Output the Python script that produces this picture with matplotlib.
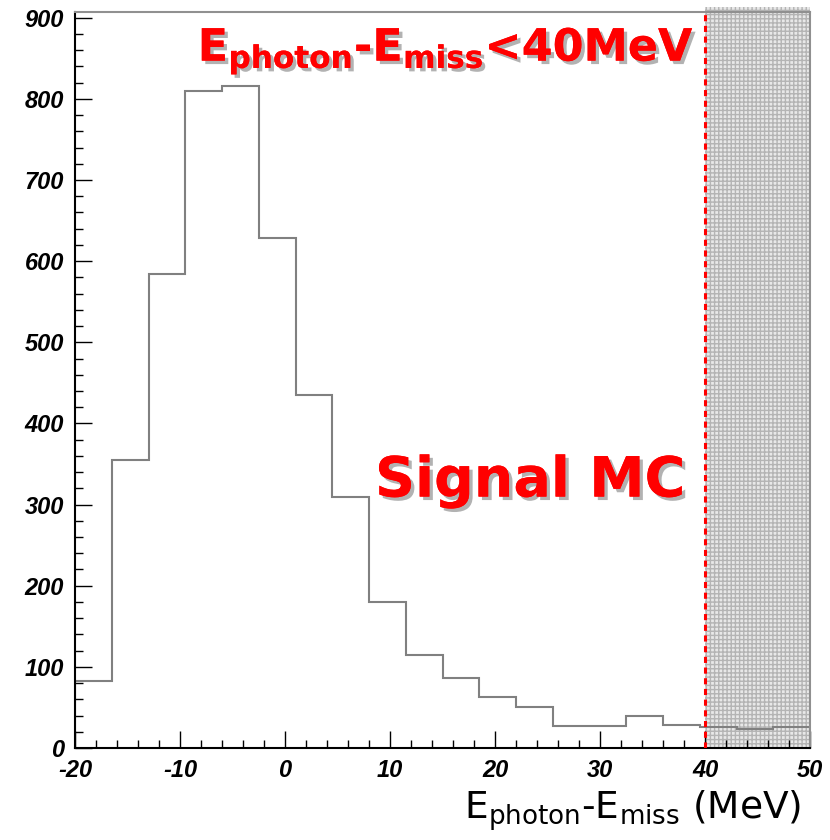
import matplotlib
matplotlib.use("Agg")
import matplotlib.pyplot as plt
import matplotlib.patheffects as pe
from matplotlib.ticker import MultipleLocator
import numpy as np

plt.rcParams["axes.unicode_minus"] = False

bin_edges = [-20, -16.5, -13, -9.5, -6, -2.5, 1, 4.5, 8, 11.5, 15, 18.5, 22,
             25.5, 29, 32.5, 36, 39.5, 43, 46.5, 50]
counts = [83, 355, 584, 810, 816, 629, 435, 309, 180, 115, 86, 63, 51, 27, 27,
          39, 28, 26, 23, 26]
cut_value = 40
x_ticks = [-20, -10, 0, 10, 20, 30, 40, 50]
y_ticks = [0, 100, 200, 300, 400, 500, 600, 700, 800, 900]

fig = plt.figure(figsize=(8.3, 8.4), dpi=100)
ax = fig.add_axes([0.0904, 0.1095, 0.8856, 0.8762])

ax.stairs(counts, bin_edges, color="#808080", linewidth=1.5, zorder=2)

ax.set_xlim(-20, 50)
ax.set_ylim(0, 907)

# shaded excluded region
ax.fill_between([cut_value, 50], 0, 913, facecolor="#e8e8e8", edgecolor="#b4b4b4",
                hatch="++++", linewidth=0, clip_on=False, zorder=1)
ax.axvline(cut_value, color="red", linestyle=(0, (2, 1.5)), linewidth=2.2, zorder=3)

for s in ["top", "right"]:
    ax.spines[s].set_color("#909090")
    ax.spines[s].set_linewidth(1.5)
for s in ["left", "bottom"]:
    ax.spines[s].set_color("black")
    ax.spines[s].set_linewidth(1.5)

ax.xaxis.set_major_locator(MultipleLocator(10))
ax.xaxis.set_minor_locator(MultipleLocator(2))
ax.yaxis.set_major_locator(MultipleLocator(100))
ax.yaxis.set_minor_locator(MultipleLocator(20))
ax.set_xticks(x_ticks)
ax.set_yticks(y_ticks)
ax.tick_params(axis="both", which="major", direction="in", length=12, width=1, pad=8)
ax.tick_params(axis="both", which="minor", direction="in", length=6, width=1)
ax.tick_params(top=False, right=False, which="both")

for lab in ax.get_xticklabels() + ax.get_yticklabels():
    lab.set_fontfamily("Liberation Sans")
    lab.set_fontweight("bold")
    lab.set_fontstyle("italic")
    lab.set_fontsize(17)

fig.text(0.965, 0.008, r"E$_{\mathregular{photon}}$-E$_{\mathregular{miss}}$ (MeV)",
         ha="right", va="bottom", fontsize=27, family="DejaVu Sans")

shadow = [pe.withSimplePatchShadow(offset=(2.5, -2.5), shadow_rgbFace="#aaaaaa", alpha=0.9),
          pe.Normal()]
ax.text(0.843, 0.982, r"E$_{\mathbf{photon}}$-E$_{\mathbf{miss}}$<40MeV",
        transform=ax.transAxes, ha="right", va="top", fontsize=32, color="red",
        fontweight="bold", family="DejaVu Sans", path_effects=shadow)
ax.text(0.83, 0.362, "Signal MC", transform=ax.transAxes, ha="right",
        va="center", fontsize=40, color="red", fontweight="bold",
        family="DejaVu Sans", path_effects=shadow)

fig.savefig("out.png", dpi=100)
